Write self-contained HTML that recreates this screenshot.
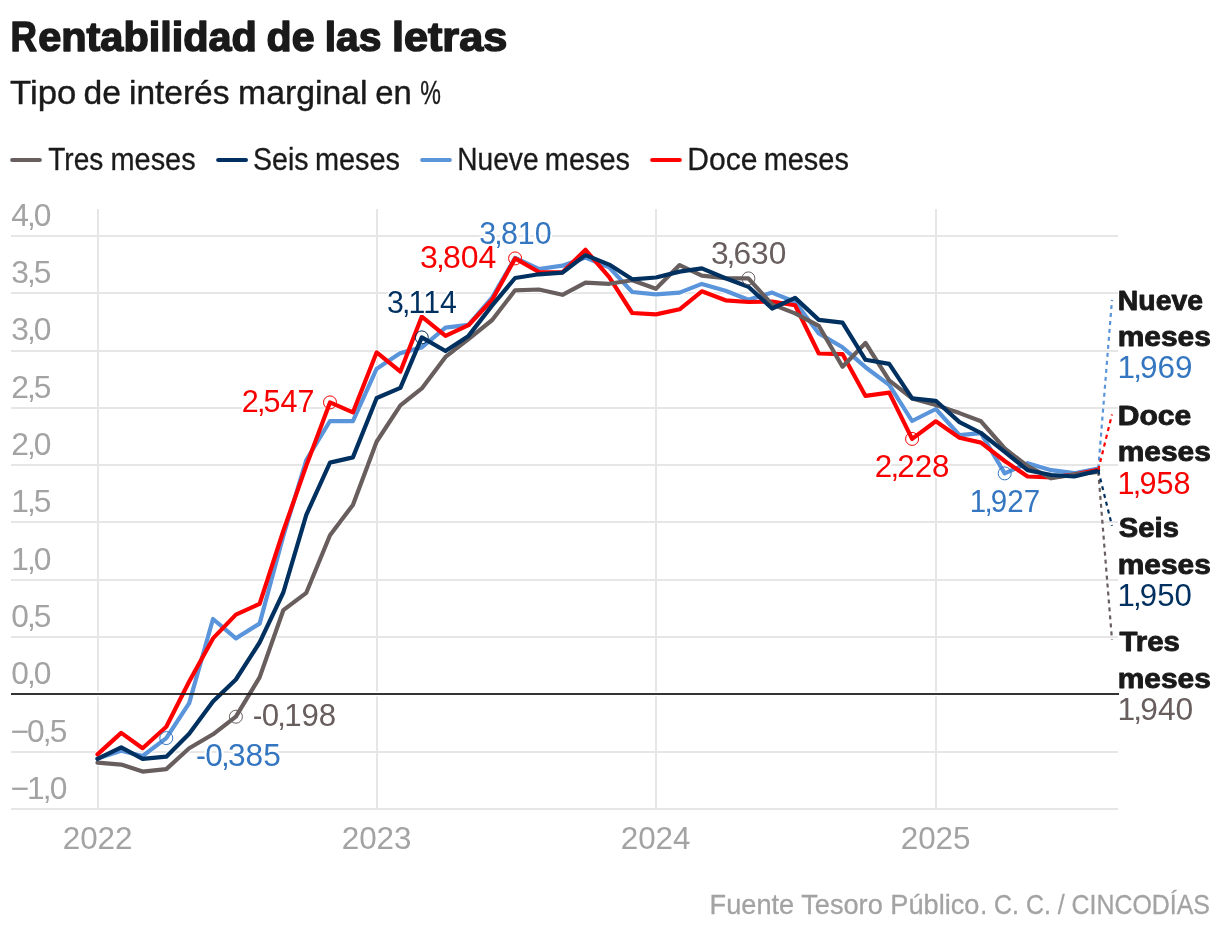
<!DOCTYPE html>
<html lang="es"><head><meta charset="utf-8"><title>Rentabilidad de las letras</title>
<style>
html,body{margin:0;padding:0;background:#fff}
body{width:1220px;height:934px;overflow:hidden}
svg{display:block;font-family:"Liberation Sans",sans-serif}
text{white-space:pre}
</style></head><body>
<svg width="1220" height="934" viewBox="0 0 1220 934" role="img" aria-label="Rentabilidad de las letras">
<rect width="1220" height="934" fill="#fff"/>
<text font-size="40.2" font-weight="700" fill="#1a1a1a" stroke="#1a1a1a" stroke-width="1.5" stroke-linejoin="round"><tspan x="10.47" y="51.10" font-size="42.2" textLength="26.49" lengthAdjust="spacingAndGlyphs">R</tspan><tspan x="38.19" y="51.10" textLength="218.69" lengthAdjust="spacingAndGlyphs">entabilidad</tspan> <tspan x="266.61" y="51.10" textLength="47.96" lengthAdjust="spacingAndGlyphs">de</tspan> <tspan x="324.70" y="51.10" textLength="56.69" lengthAdjust="spacingAndGlyphs">las</tspan> <tspan x="391.93" y="51.10" textLength="115.30" lengthAdjust="spacingAndGlyphs">letras</tspan></text>
<text font-size="33.5" font-weight="400" fill="#1a1a1a" stroke="#1a1a1a" stroke-width="0.4" stroke-linejoin="round"><tspan x="10.12" y="103.90" textLength="66.18" lengthAdjust="spacingAndGlyphs">Tipo</tspan> <tspan x="83.57" y="103.90" textLength="37.44" lengthAdjust="spacingAndGlyphs">de</tspan> <tspan x="128.94" y="103.90" textLength="100.59" lengthAdjust="spacingAndGlyphs">interés</tspan> <tspan x="238.12" y="103.90" textLength="129.46" lengthAdjust="spacingAndGlyphs">marginal</tspan> <tspan x="375.30" y="103.90" textLength="36.52" lengthAdjust="spacingAndGlyphs">en</tspan> <tspan x="420.19" y="103.90" textLength="20.67" lengthAdjust="spacingAndGlyphs">%</tspan></text>
<line x1="12.1" y1="159.9" x2="39.9" y2="159.9" stroke="#675e5d" stroke-width="4" stroke-linecap="round"/>
<text font-size="30.8" font-weight="400" fill="#1a1a1a" stroke="#1a1a1a" stroke-width="0.3" stroke-linejoin="round"><tspan x="48.22" y="169.90" textLength="55.02" lengthAdjust="spacingAndGlyphs">Tres</tspan> <tspan x="110.50" y="169.90" textLength="85.17" lengthAdjust="spacingAndGlyphs">meses</tspan></text>
<line x1="218.1" y1="159.9" x2="246" y2="159.9" stroke="#00305f" stroke-width="4" stroke-linecap="round"/>
<text font-size="30.8" font-weight="400" fill="#1a1a1a" stroke="#1a1a1a" stroke-width="0.3" stroke-linejoin="round"><tspan x="252.96" y="169.90" textLength="55.60" lengthAdjust="spacingAndGlyphs">Seis</tspan> <tspan x="314.90" y="169.90" textLength="85.17" lengthAdjust="spacingAndGlyphs">meses</tspan></text>
<line x1="422.1" y1="159.9" x2="449.9" y2="159.9" stroke="#5a94da" stroke-width="4" stroke-linecap="round"/>
<text font-size="30.8" font-weight="400" fill="#1a1a1a" stroke="#1a1a1a" stroke-width="0.3" stroke-linejoin="round"><tspan x="457.33" y="169.90" textLength="81.20" lengthAdjust="spacingAndGlyphs">Nueve</tspan> <tspan x="544.80" y="169.90" textLength="85.17" lengthAdjust="spacingAndGlyphs">meses</tspan></text>
<line x1="652.1" y1="159.9" x2="679.9" y2="159.9" stroke="#ff0000" stroke-width="4" stroke-linecap="round"/>
<text font-size="30.8" font-weight="400" fill="#1a1a1a" stroke="#1a1a1a" stroke-width="0.3" stroke-linejoin="round"><tspan x="687.27" y="169.90" textLength="70.22" lengthAdjust="spacingAndGlyphs">Doce</tspan> <tspan x="763.70" y="169.90" textLength="85.17" lengthAdjust="spacingAndGlyphs">meses</tspan></text>
<g fill="#e6e6e6" shape-rendering="crispEdges">
<rect x="11" y="235" width="1107" height="2"/>
<rect x="11" y="292" width="1107" height="2"/>
<rect x="11" y="350" width="1107" height="2"/>
<rect x="11" y="407" width="1107" height="2"/>
<rect x="11" y="464" width="1107" height="2"/>
<rect x="11" y="521" width="1107" height="2"/>
<rect x="11" y="579" width="1107" height="2"/>
<rect x="11" y="636" width="1107" height="2"/>
<rect x="11" y="751" width="1107" height="2"/>
<rect x="11" y="808" width="1107" height="2"/>
<rect x="97" y="209" width="2" height="600"/>
<rect x="376" y="209" width="2" height="600"/>
<rect x="655" y="209" width="2" height="600"/>
<rect x="935" y="209" width="2" height="600"/>
</g>
<rect x="11" y="691.5" width="1108" height="5" fill="#fff"/>
<g font-size="31.4" fill="#a3a3a3">
<text transform="translate(11.15 225.80) scale(1.012 1)"><tspan letter-spacing="-0.06em">4,</tspan>0</text>
<text transform="translate(11.15 283.10) scale(1.012 1)"><tspan letter-spacing="-0.06em">3,</tspan>5</text>
<text transform="translate(11.15 340.40) scale(1.012 1)"><tspan letter-spacing="-0.06em">3,</tspan>0</text>
<text transform="translate(11.15 397.70) scale(1.012 1)"><tspan letter-spacing="-0.06em">2,</tspan>5</text>
<text transform="translate(11.15 455.00) scale(1.012 1)"><tspan letter-spacing="-0.06em">2,</tspan>0</text>
<text transform="translate(11.15 512.30) scale(1.012 1)"><tspan letter-spacing="-0.06em">1,</tspan>5</text>
<text transform="translate(11.15 569.60) scale(1.012 1)"><tspan letter-spacing="-0.06em">1,</tspan>0</text>
<text transform="translate(11.15 626.90) scale(1.012 1)"><tspan letter-spacing="-0.06em">0,</tspan>5</text>
<text transform="translate(11.15 684.20) scale(1.012 1)"><tspan letter-spacing="-0.06em">0,</tspan>0</text>
<text transform="translate(10.60 741.50) scale(1.012 1)"><tspan letter-spacing="-0.065em">−</tspan><tspan letter-spacing="-0.06em">0,</tspan>5</text>
<text transform="translate(10.60 798.80) scale(1.012 1)"><tspan letter-spacing="-0.065em">−</tspan><tspan letter-spacing="-0.06em">1,</tspan>0</text>
<text transform="translate(97.6 849.1) scale(1.0 1)" text-anchor="middle">2022</text>
<text transform="translate(376.6 849.1) scale(1.0 1)" text-anchor="middle">2023</text>
<text transform="translate(655.6 849.1) scale(1.0 1)" text-anchor="middle">2024</text>
<text transform="translate(935.6 849.1) scale(1.0 1)" text-anchor="middle">2025</text>
</g>
<g fill="none" stroke="#fff" stroke-width="5.9" stroke-linejoin="round" stroke-linecap="round">
<path d="M97.5 758.4 L121.2 750.7 L142.6 756.0 L166.3 738.1 L189.2 703.1 L213.0 619.0 L235.9 638.4 L259.6 623.6 L283.3 536.0 L306.3 460.0 L330.0 421.0 L352.9 421.2 L376.7 368.7 L400.4 353.1 L421.8 347.4 L445.5 327.7 L468.5 324.8 L492.2 297.4 L515.1 257.8 L538.8 269.0 L562.5 265.7 L585.5 257.5 L609.2 267.4 L632.2 292.0 L655.9 294.3 L679.6 292.6 L701.8 283.9 L725.5 290.8 L748.4 299.8 L772.1 292.6 L795.1 302.0 L818.8 333.4 L842.5 347.3 L865.5 367.2 L889.2 384.9 L912.1 421.0 L935.8 409.0 L959.5 435.2 L981.0 433.2 L1004.7 473.4 L1027.6 463.2 L1051.3 470.2 L1074.3 473.2 L1098.0 468.5"/>
<path d="M97.5 754.4 L121.2 732.9 L142.6 748.2 L166.3 726.8 L189.2 681.5 L213.0 638.4 L235.9 614.6 L259.6 603.9 L283.3 531.0 L306.3 465.6 L330.0 402.4 L352.9 412.4 L376.7 352.3 L400.4 371.6 L421.8 316.6 L445.5 335.9 L468.5 325.2 L492.2 299.8 L515.1 258.4 L538.8 272.0 L562.5 272.3 L585.5 249.8 L609.2 277.2 L632.2 313.0 L655.9 314.4 L679.6 309.3 L701.8 291.3 L725.5 300.3 L748.4 302.0 L772.1 301.6 L795.1 305.2 L818.8 353.5 L842.5 354.1 L865.5 395.9 L889.2 392.6 L912.1 438.9 L935.8 421.3 L959.5 437.7 L981.0 442.6 L1004.7 461.0 L1027.6 476.5 L1051.3 477.4 L1074.3 474.5 L1098.0 469.8"/>
<path d="M97.5 762.6 L121.2 764.6 L142.6 771.6 L166.3 769.1 L189.2 748.2 L213.0 734.3 L235.9 716.7 L259.6 677.4 L283.3 610.2 L306.3 592.8 L330.0 535.2 L352.9 504.9 L376.7 441.5 L400.4 405.3 L421.8 388.4 L445.5 356.9 L468.5 339.2 L492.2 320.0 L515.1 290.3 L538.8 289.5 L562.5 294.8 L585.5 282.6 L609.2 283.8 L632.2 280.2 L655.9 288.8 L679.6 265.1 L701.8 275.7 L725.5 278.2 L748.4 278.4 L772.1 304.4 L795.1 313.4 L818.8 325.8 L842.5 366.8 L865.5 343.0 L889.2 380.3 L912.1 398.4 L935.8 404.9 L959.5 413.1 L981.0 421.3 L1004.7 448.5 L1027.6 466.2 L1051.3 478.3 L1074.3 474.5 L1098.0 471.9"/>
<path d="M97.5 758.9 L121.2 747.4 L142.6 758.9 L166.3 756.7 L189.2 733.8 L213.0 701.5 L235.9 679.5 L259.6 642.5 L283.3 592.5 L306.3 514.8 L330.0 462.6 L352.9 457.4 L376.7 398.0 L400.4 387.9 L421.8 337.4 L445.5 351.0 L468.5 335.9 L492.2 305.4 L515.1 278.0 L538.8 274.3 L562.5 272.6 L585.5 255.1 L609.2 264.6 L632.2 279.3 L655.9 277.5 L679.6 271.6 L701.8 268.4 L725.5 278.2 L748.4 286.7 L772.1 308.5 L795.1 297.9 L818.8 319.9 L842.5 322.7 L865.5 359.8 L889.2 363.9 L912.1 398.4 L935.8 400.8 L959.5 422.1 L981.0 433.0 L1004.7 451.8 L1027.6 470.2 L1051.3 475.0 L1074.3 476.5 L1098.0 470.7"/>
</g>
<g fill="none" stroke-width="4.2" stroke-linejoin="round" stroke-linecap="round">
<path d="M97.5 758.4 L121.2 750.7 L142.6 756.0 L166.3 738.1 L189.2 703.1 L213.0 619.0 L235.9 638.4 L259.6 623.6 L283.3 536.0 L306.3 460.0 L330.0 421.0 L352.9 421.2 L376.7 368.7 L400.4 353.1 L421.8 347.4 L445.5 327.7 L468.5 324.8 L492.2 297.4 L515.1 257.8 L538.8 269.0 L562.5 265.7 L585.5 257.5 L609.2 267.4 L632.2 292.0 L655.9 294.3 L679.6 292.6 L701.8 283.9 L725.5 290.8 L748.4 299.8 L772.1 292.6 L795.1 302.0 L818.8 333.4 L842.5 347.3 L865.5 367.2 L889.2 384.9 L912.1 421.0 L935.8 409.0 L959.5 435.2 L981.0 433.2 L1004.7 473.4 L1027.6 463.2 L1051.3 470.2 L1074.3 473.2 L1098.0 468.5" stroke="#5a94da"/>
<path d="M97.5 754.4 L121.2 732.9 L142.6 748.2 L166.3 726.8 L189.2 681.5 L213.0 638.4 L235.9 614.6 L259.6 603.9 L283.3 531.0 L306.3 465.6 L330.0 402.4 L352.9 412.4 L376.7 352.3 L400.4 371.6 L421.8 316.6 L445.5 335.9 L468.5 325.2 L492.2 299.8 L515.1 258.4 L538.8 272.0 L562.5 272.3 L585.5 249.8 L609.2 277.2 L632.2 313.0 L655.9 314.4 L679.6 309.3 L701.8 291.3 L725.5 300.3 L748.4 302.0 L772.1 301.6 L795.1 305.2 L818.8 353.5 L842.5 354.1 L865.5 395.9 L889.2 392.6 L912.1 438.9 L935.8 421.3 L959.5 437.7 L981.0 442.6 L1004.7 461.0 L1027.6 476.5 L1051.3 477.4 L1074.3 474.5 L1098.0 469.8" stroke="#ff0000"/>
<path d="M97.5 762.6 L121.2 764.6 L142.6 771.6 L166.3 769.1 L189.2 748.2 L213.0 734.3 L235.9 716.7 L259.6 677.4 L283.3 610.2 L306.3 592.8 L330.0 535.2 L352.9 504.9 L376.7 441.5 L400.4 405.3 L421.8 388.4 L445.5 356.9 L468.5 339.2 L492.2 320.0 L515.1 290.3 L538.8 289.5 L562.5 294.8 L585.5 282.6 L609.2 283.8 L632.2 280.2 L655.9 288.8 L679.6 265.1 L701.8 275.7 L725.5 278.2 L748.4 278.4 L772.1 304.4 L795.1 313.4 L818.8 325.8 L842.5 366.8 L865.5 343.0 L889.2 380.3 L912.1 398.4 L935.8 404.9 L959.5 413.1 L981.0 421.3 L1004.7 448.5 L1027.6 466.2 L1051.3 478.3 L1074.3 474.5 L1098.0 471.9" stroke="#675e5d"/>
<path d="M97.5 758.9 L121.2 747.4 L142.6 758.9 L166.3 756.7 L189.2 733.8 L213.0 701.5 L235.9 679.5 L259.6 642.5 L283.3 592.5 L306.3 514.8 L330.0 462.6 L352.9 457.4 L376.7 398.0 L400.4 387.9 L421.8 337.4 L445.5 351.0 L468.5 335.9 L492.2 305.4 L515.1 278.0 L538.8 274.3 L562.5 272.6 L585.5 255.1 L609.2 264.6 L632.2 279.3 L655.9 277.5 L679.6 271.6 L701.8 268.4 L725.5 278.2 L748.4 286.7 L772.1 308.5 L795.1 297.9 L818.8 319.9 L842.5 322.7 L865.5 359.8 L889.2 363.9 L912.1 398.4 L935.8 400.8 L959.5 422.1 L981.0 433.0 L1004.7 451.8 L1027.6 470.2 L1051.3 475.0 L1074.3 476.5 L1098.0 470.7" stroke="#00305f"/>
</g>
<rect x="11" y="693.12" width="1108" height="1.76" fill="#1a1a1a"/>
<g fill="none" stroke-width="2.2" stroke-dasharray="4 4">
<line x1="1098.3" y1="468.5" x2="1112" y2="299.9" stroke="#5a94da"/>
<line x1="1098.3" y1="469.8" x2="1112" y2="414.4" stroke="#ff0000"/>
<line x1="1098.3" y1="471.9" x2="1112" y2="639.9" stroke="#675e5d"/>
<line x1="1098.3" y1="470.7" x2="1112" y2="525.7" stroke="#00305f"/>
</g>
<g fill="none" stroke-width="1">
<circle cx="330.0" cy="402.4" r="6.5" stroke="#f80000"/>
<circle cx="515.1" cy="258.4" r="6.5" stroke="#f80000"/>
<circle cx="912.1" cy="438.9" r="6.5" stroke="#f80000"/>
<circle cx="166.3" cy="738.1" r="6.5" stroke="#3576c0"/>
<circle cx="1004.7" cy="473.4" r="6.5" stroke="#3576c0"/>
<circle cx="421.8" cy="337.4" r="6.5" stroke="#00305f"/>
<circle cx="235.9" cy="716.7" r="6.5" stroke="#675e5d"/>
<circle cx="748.4" cy="278.4" r="6.5" stroke="#675e5d"/>
</g>
<text transform="translate(241.77 411.70) scale(0.9749 1)" font-size="31.32" font-weight="400" fill="#f80000" stroke="#fff" stroke-width="4" stroke-linejoin="round" paint-order="stroke fill"><tspan letter-spacing="-0.06em">2,</tspan>547</text>
<text transform="translate(386.96 313.10) scale(0.9667 1)" font-size="31.32" font-weight="400" fill="#00305f" stroke="#fff" stroke-width="4" stroke-linejoin="round" paint-order="stroke fill"><tspan letter-spacing="-0.06em">3,</tspan>114</text>
<text transform="translate(420.10 267.80) scale(1.0233 1)" font-size="31.32" font-weight="400" fill="#f80000" stroke="#fff" stroke-width="4" stroke-linejoin="round" paint-order="stroke fill"><tspan letter-spacing="-0.06em">3,</tspan>804</text>
<text transform="translate(479.16 243.80) scale(0.9709 1)" font-size="31.32" font-weight="400" fill="#3576c0" stroke="#fff" stroke-width="4" stroke-linejoin="round" paint-order="stroke fill"><tspan letter-spacing="-0.06em">3,</tspan>810</text>
<text transform="translate(710.91 263.90) scale(1.0111 1)" font-size="31.32" font-weight="400" fill="#675e5d" stroke="#fff" stroke-width="4" stroke-linejoin="round" paint-order="stroke fill"><tspan letter-spacing="-0.06em">3,</tspan>630</text>
<text transform="translate(874.83 477.00) scale(1.0010 1)" font-size="31.32" font-weight="400" fill="#f80000" stroke="#fff" stroke-width="4" stroke-linejoin="round" paint-order="stroke fill"><tspan letter-spacing="-0.06em">2,</tspan>228</text>
<text transform="translate(969.78 511.80) scale(0.9433 1)" font-size="31.32" font-weight="400" fill="#3576c0" stroke="#fff" stroke-width="4" stroke-linejoin="round" paint-order="stroke fill"><tspan letter-spacing="-0.06em">1,</tspan>927</text>
<text transform="translate(252.69 726.40) scale(0.9969 1)" font-size="31.32" font-weight="400" fill="#675e5d" stroke="#fff" stroke-width="4" stroke-linejoin="round" paint-order="stroke fill"><tspan letter-spacing="-0.04em">-</tspan><tspan letter-spacing="-0.06em">0,</tspan>198</text>
<text transform="translate(196.07 765.70) scale(1.0118 1)" font-size="31.32" font-weight="400" fill="#3576c0" stroke="#fff" stroke-width="4" stroke-linejoin="round" paint-order="stroke fill"><tspan letter-spacing="-0.04em">-</tspan><tspan letter-spacing="-0.06em">0,</tspan>385</text>
<text font-size="27.8" font-weight="700" fill="#1a1a1a" stroke="#1a1a1a" stroke-width="0.9" stroke-linejoin="round"><tspan x="1117.83" y="309.50" textLength="85.18" lengthAdjust="spacingAndGlyphs">Nueve</tspan> <tspan x="1117.81" y="345.60" textLength="93.08" lengthAdjust="spacingAndGlyphs">meses</tspan></text>
<text transform="translate(1117.54 377.90) scale(1.0058 1)" font-size="31.32" font-weight="400" fill="#3576c0"><tspan letter-spacing="-0.06em">1,</tspan>969</text>
<text font-size="27.8" font-weight="700" fill="#1a1a1a" stroke="#1a1a1a" stroke-width="0.9" stroke-linejoin="round"><tspan x="1117.72" y="425.30" textLength="73.49" lengthAdjust="spacingAndGlyphs">Doce</tspan> <tspan x="1117.81" y="461.40" textLength="93.08" lengthAdjust="spacingAndGlyphs">meses</tspan></text>
<text transform="translate(1117.61 493.70) scale(0.9768 1)" font-size="31.32" font-weight="400" fill="#f80000"><tspan letter-spacing="-0.06em">1,</tspan>958</text>
<text font-size="27.8" font-weight="700" fill="#1a1a1a" stroke="#1a1a1a" stroke-width="0.9" stroke-linejoin="round"><tspan x="1118.87" y="537.40" textLength="60.01" lengthAdjust="spacingAndGlyphs">Seis</tspan> <tspan x="1117.81" y="573.50" textLength="93.08" lengthAdjust="spacingAndGlyphs">meses</tspan></text>
<text transform="translate(1117.56 605.80) scale(0.9954 1)" font-size="31.32" font-weight="400" fill="#00305f"><tspan letter-spacing="-0.06em">1,</tspan>950</text>
<text font-size="27.8" font-weight="700" fill="#1a1a1a" stroke="#1a1a1a" stroke-width="0.9" stroke-linejoin="round"><tspan x="1119.46" y="651.40" textLength="60.43" lengthAdjust="spacingAndGlyphs">Tres</tspan> <tspan x="1117.81" y="687.50" textLength="93.08" lengthAdjust="spacingAndGlyphs">meses</tspan></text>
<text transform="translate(1117.52 719.80) scale(1.0151 1)" font-size="31.32" font-weight="400" fill="#675e5d"><tspan letter-spacing="-0.06em">1,</tspan>940</text>
<text font-size="28.5" font-weight="400" fill="#a3a3a3" stroke="#a3a3a3" stroke-width="0.3" stroke-linejoin="round"><tspan x="709.61" y="913.60" textLength="269.79" lengthAdjust="spacingAndGlyphs">Fuente Tesoro Público</tspan><tspan x="980.25" y="913.60" textLength="229.64" lengthAdjust="spacingAndGlyphs">. C. C. / CINCODÍAS</tspan></text>
</svg></body></html>
